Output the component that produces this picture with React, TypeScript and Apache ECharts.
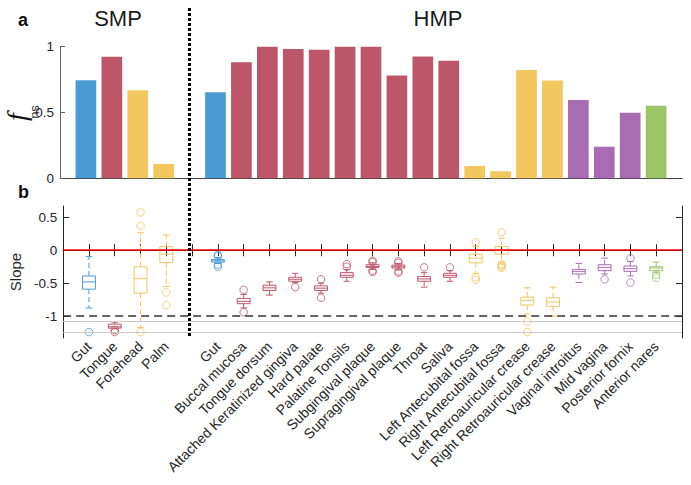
import React, { useEffect, useRef } from 'react';
import * as echarts from 'echarts';

// ---------- data ----------
const smpSites = ['Gut', 'Tongue', 'Forehead', 'Palm'];
const hmpSites = [
  'Gut', 'Buccal mucosa', 'Tongue dorsum', 'Attached Keratinized gingiva', 'Hard palate',
  'Palatine Tonsils', 'Subgingival plaque', 'Supragingival plaque', 'Throat', 'Saliva',
  'Left Antecubital fossa', 'Right Antecubital fossa', 'Left Retroauricular crease',
  'Right Retroauricular crease', 'Vaginal introitus', 'Mid vagina', 'Posterior fornix', 'Anterior nares',
];
const smpGroups = ['gut', 'oral', 'skin', 'skin'];
const hmpGroups = [
  'gut', 'oral', 'oral', 'oral', 'oral', 'oral', 'oral', 'oral', 'oral', 'oral',
  'skin', 'skin', 'skin', 'skin', 'vaginal', 'vaginal', 'vaginal', 'nasal',
];
const smpFns = [0.746, 0.923, 0.67, 0.109];
const hmpFns = [0.653, 0.881, 1.0, 0.982, 0.977, 1.0, 1.0, 0.782, 0.926, 0.893, 0.093, 0.053, 0.822, 0.744, 0.595, 0.24, 0.498, 0.551];

// [lower whisker, Q1, median, Q3, upper whisker]
const smpBoxes = [
  [-0.875, -0.59, -0.48, -0.39, -0.097],
  [-1.19, -1.18, -1.16, -1.12, -1.09],
  [-1.17, -0.65, -0.43, -0.25, 0.27],
  [-0.55, -0.187, -0.06, 0.055, 0.23],
];
const hmpBoxes = [
  [-0.2, -0.18, -0.16, -0.14, -0.11],
  [-0.875, -0.81, -0.775, -0.73, -0.67],
  [-0.68, -0.61, -0.57, -0.53, -0.48],
  [-0.49, -0.47, -0.44, -0.41, -0.35],
  [-0.65, -0.61, -0.575, -0.54, -0.5],
  [-0.47, -0.41, -0.38, -0.34, -0.29],
  [-0.29, -0.26, -0.245, -0.22, -0.19],
  [-0.3, -0.27, -0.25, -0.225, -0.2],
  [-0.56, -0.47, -0.435, -0.4, -0.34],
  [-0.47, -0.41, -0.38, -0.35, -0.31],
  [-0.35, -0.19, -0.12, -0.06, 0.055],
  [-0.19, -0.06, 0.0, 0.055, 0.18],
  [-0.965, -0.83, -0.76, -0.71, -0.57],
  [-1.0, -0.85, -0.785, -0.72, -0.56],
  [-0.49, -0.36, -0.32, -0.29, -0.2],
  [-0.36, -0.31, -0.26, -0.22, -0.12],
  [-0.39, -0.32, -0.28, -0.24, -0.17],
  [-0.34, -0.31, -0.27, -0.25, -0.18],
];
const smpOutliers = [[-1.24], [-1.21, -1.24], [0.573, 0.37, -1.24], [-0.64, -0.835]];
const hmpOutliers = [
  [-0.07, -0.09, -0.22, -0.25],
  [-0.6, -0.94],
  [],
  [-0.56],
  [-0.44, -0.72],
  [-0.21, -0.25],
  [-0.16, -0.18, -0.31, -0.33],
  [-0.17, -0.19, -0.32, -0.34],
  [-0.26],
  [-0.26],
  [0.12, -0.41, -0.45],
  [0.27, -0.21, -0.23, -0.25, -0.27],
  [-1.08, -1.24],
  [],
  [],
  [-0.44],
  [-0.12, -0.49],
  [-0.37, -0.42],
];
const fnsTicks = [0, 0.5, 1];
const slopeTicks = [-1, -0.5, 0, 0.5];
const slopeRange = [-1.33, 0.67];
const grayLines = [-1.08, -1.24];

// ---------- styling ----------
const groupColors: Record<string, string> = {
  gut: '#4a9bd4',
  oral: '#be566a',
  skin: '#f1c75e',
  vaginal: '#a86cb3',
  nasal: '#9bc466',
};
const FONT = '"Liberation Sans", Arial, Helvetica, sans-serif';
const TXT = '#262626';

const categories = ['', ...smpSites, '', ...hmpSites, ''];
const smpIndex = (i: number) => 1 + i;
const hmpIndex = (j: number) => 6 + j;

export default function App() {
  const ref = useRef<HTMLDivElement>(null);
  useEffect(() => {
    document.body.style.margin = '0';
    if (!ref.current) return;
    const chart = echarts.init(ref.current, null, { renderer: 'svg' });

    const barData: any[] = categories.map(() => null);
    smpFns.forEach((v, i) => {
      barData[smpIndex(i)] = { value: v, itemStyle: { color: groupColors[smpGroups[i]] } };
    });
    hmpFns.forEach((v, j) => {
      barData[hmpIndex(j)] = { value: v, itemStyle: { color: groupColors[hmpGroups[j]] } };
    });

    const boxData: any[] = [];
    const outlierData: any[] = [];
    smpBoxes.forEach((b, i) => {
      boxData.push([smpIndex(i), ...b, smpGroups[i]]);
      smpOutliers[i].forEach((o) =>
        outlierData.push({ value: [smpIndex(i), o], itemStyle: { borderColor: groupColors[smpGroups[i]] } })
      );
    });
    hmpBoxes.forEach((b, j) => {
      boxData.push([hmpIndex(j), ...b, hmpGroups[j]]);
      hmpOutliers[j].forEach((o) =>
        outlierData.push({ value: [hmpIndex(j), o], itemStyle: { borderColor: groupColors[hmpGroups[j]] } })
      );
    });

    const renderBox = (params: any, api: any) => {
      const idx = params.dataIndex;
      const d = boxData[idx];
      const x = d[0];
      const color = groupColors[d[6]];
      const unit = api.size([1, 0])[0];
      const bw = unit * 0.5;
      const cw = bw * 0.5;
      const pLo = api.coord([x, d[1]]);
      const pQ1 = api.coord([x, d[2]]);
      const pMed = api.coord([x, d[3]]);
      const pQ3 = api.coord([x, d[4]]);
      const pHi = api.coord([x, d[5]]);
      const cx = pMed[0];
      const st = { stroke: color, lineWidth: 1, fill: 'none' };
      const dash = { stroke: color, lineWidth: 1, lineDash: [5, 3] };
      return {
        type: 'group',
        children: [
          { type: 'line', shape: { x1: cx, y1: pQ3[1], x2: cx, y2: pHi[1] }, style: dash },
          { type: 'line', shape: { x1: cx, y1: pQ1[1], x2: cx, y2: pLo[1] }, style: dash },
          { type: 'line', shape: { x1: cx - cw / 2, y1: pHi[1], x2: cx + cw / 2, y2: pHi[1] }, style: st },
          { type: 'line', shape: { x1: cx - cw / 2, y1: pLo[1], x2: cx + cw / 2, y2: pLo[1] }, style: st },
          {
            type: 'rect',
            shape: { x: cx - bw / 2, y: pQ3[1], width: bw, height: pQ1[1] - pQ3[1] },
            style: st,
          },
          { type: 'line', shape: { x1: cx - bw / 2, y1: pMed[1], x2: cx + bw / 2, y2: pMed[1] }, style: st },
        ],
      };
    };

    const gridLeft = 60;
    const gridRight = 9;

    chart.setOption({
      animation: false,
      textStyle: { fontFamily: FONT },
      grid: [
        { left: gridLeft, right: gridRight, top: 46.7, height: 131.6 },
        { left: gridLeft, right: gridRight, top: 206, height: 132 },
      ],
      xAxis: [
        {
          gridIndex: 0,
          type: 'category',
          data: categories,
          boundaryGap: false,
          axisLine: { lineStyle: { color: '#404040', width: 1 } },
          axisTick: { show: false },
          axisLabel: { show: false },
        },
        {
          gridIndex: 1,
          type: 'category',
          data: categories,
          boundaryGap: false,
          axisLine: { lineStyle: { color: TXT, width: 1 } },
          axisTick: { inside: true, length: 6, interval: 0, lineStyle: { color: TXT } },
          axisLabel: {
            interval: 0,
            rotate: 45,
            margin: 6,
            fontSize: 14,
            color: TXT,
            fontFamily: FONT,
          },
        },
        {
          gridIndex: 1,
          type: 'category',
          position: 'top',
          data: categories,
          boundaryGap: false,
          axisLine: { lineStyle: { color: TXT, width: 1 } },
          axisTick: { inside: true, length: 6, interval: 0, lineStyle: { color: TXT } },
          axisLabel: { show: false },
        },
      ],
      yAxis: [
        {
          gridIndex: 0,
          type: 'value',
          min: fnsTicks[0],
          max: fnsTicks[fnsTicks.length - 1],
          interval: 0.5,
          axisLine: { show: true, lineStyle: { color: '#666', width: 1 } },
          axisTick: { show: true, inside: true, length: 5, lineStyle: { color: '#666' } },
          axisLabel: { fontSize: 13.5, color: TXT, margin: 6, fontFamily: FONT },
          splitLine: { show: false },
        },
        {
          gridIndex: 1,
          type: 'value',
          min: slopeRange[0],
          max: slopeRange[1],
          name: 'Slope',
          nameLocation: 'middle',
          nameGap: 26,
          nameTextStyle: { fontSize: 15, color: TXT, fontFamily: FONT },
          axisLine: { show: true, lineStyle: { color: TXT, width: 1 } },
          axisTick: { show: true, inside: true, length: 6, customValues: slopeTicks, lineStyle: { color: TXT } },
          axisLabel: { fontSize: 13.5, color: TXT, margin: 6, customValues: slopeTicks, fontFamily: FONT },
          splitLine: { show: false },
        },
        {
          gridIndex: 1,
          type: 'value',
          position: 'right',
          min: slopeRange[0],
          max: slopeRange[1],
          axisLine: { show: true, lineStyle: { color: TXT, width: 1 } },
          axisTick: { show: true, inside: true, length: 6, customValues: slopeTicks, lineStyle: { color: TXT } },
          axisLabel: { show: false },
          splitLine: { show: false },
        },
      ],
      series: [
        {
          type: 'bar',
          xAxisIndex: 0,
          yAxisIndex: 0,
          data: barData,
          barWidth: 20.7,
        },
        {
          type: 'scatter',
          xAxisIndex: 1,
          yAxisIndex: 1,
          data: outlierData,
          symbol: 'circle',
          symbolSize: 7.5,
          itemStyle: { color: 'rgba(0,0,0,0)', borderWidth: 1 },
          z: 3,
          markLine: {
            silent: true,
            symbol: 'none',
            label: { show: false },
            data: [
              { yAxis: 0, lineStyle: { color: '#ff0000', width: 1.5, type: 'solid' } },
              { yAxis: -1, lineStyle: { color: '#333333', width: 1.5, type: [8, 5] } },
              ...grayLines.map((v) => ({ yAxis: v, lineStyle: { color: '#cccccc', width: 1.2, type: 'solid' } })),
            ],
          },
        },
        {
          type: 'custom',
          xAxisIndex: 1,
          yAxisIndex: 1,
          data: boxData.map((d) => [d[0], d[1], d[2], d[3], d[4], d[5]]),
          encode: { x: 0, y: [1, 2, 3, 4, 5] },
          renderItem: renderBox,
          z: 4,
        },
      ],
      graphic: [
        {
          type: 'line',
          shape: { x1: 189.5, y1: 8, x2: 189.5, y2: 338 },
          style: { stroke: '#000', lineWidth: 3, lineDash: [3, 2] },
          z: 10,
        },
        { type: 'text', x: 18, y: 20, style: { text: 'a', fontSize: 18, fontWeight: 'bold', fill: '#111', fontFamily: FONT, align: 'left', verticalAlign: 'middle' } },
        { type: 'text', x: 18, y: 192, style: { text: 'b', fontSize: 18, fontWeight: 'bold', fill: '#111', fontFamily: FONT, align: 'left', verticalAlign: 'middle' } },
        { type: 'text', x: 118, y: 18, style: { text: 'SMP', fontSize: 22, fill: '#1a1a1a', fontFamily: FONT, align: 'center', verticalAlign: 'middle' } },
        { type: 'text', x: 438, y: 18, style: { text: 'HMP', fontSize: 22, fill: '#1a1a1a', fontFamily: FONT, align: 'center', verticalAlign: 'middle' } },
        {
          type: 'text',
          x: 16,
          y: 117,
          rotation: Math.PI / 2,
          style: { text: 'f', fontSize: 28, fontStyle: 'italic', fill: '#111', fontFamily: '"Liberation Serif", "Times New Roman", serif', align: 'center', verticalAlign: 'middle' },
        },
        {
          type: 'text',
          x: 34,
          y: 112,
          rotation: Math.PI / 2,
          style: { text: 'ns', fontSize: 13, fill: '#333', fontFamily: FONT, align: 'center', verticalAlign: 'middle' },
        },
      ],
    });
    return () => chart.dispose();
  }, []);
  return <div ref={ref} style={{ width: 691, height: 485 }} />;
}
